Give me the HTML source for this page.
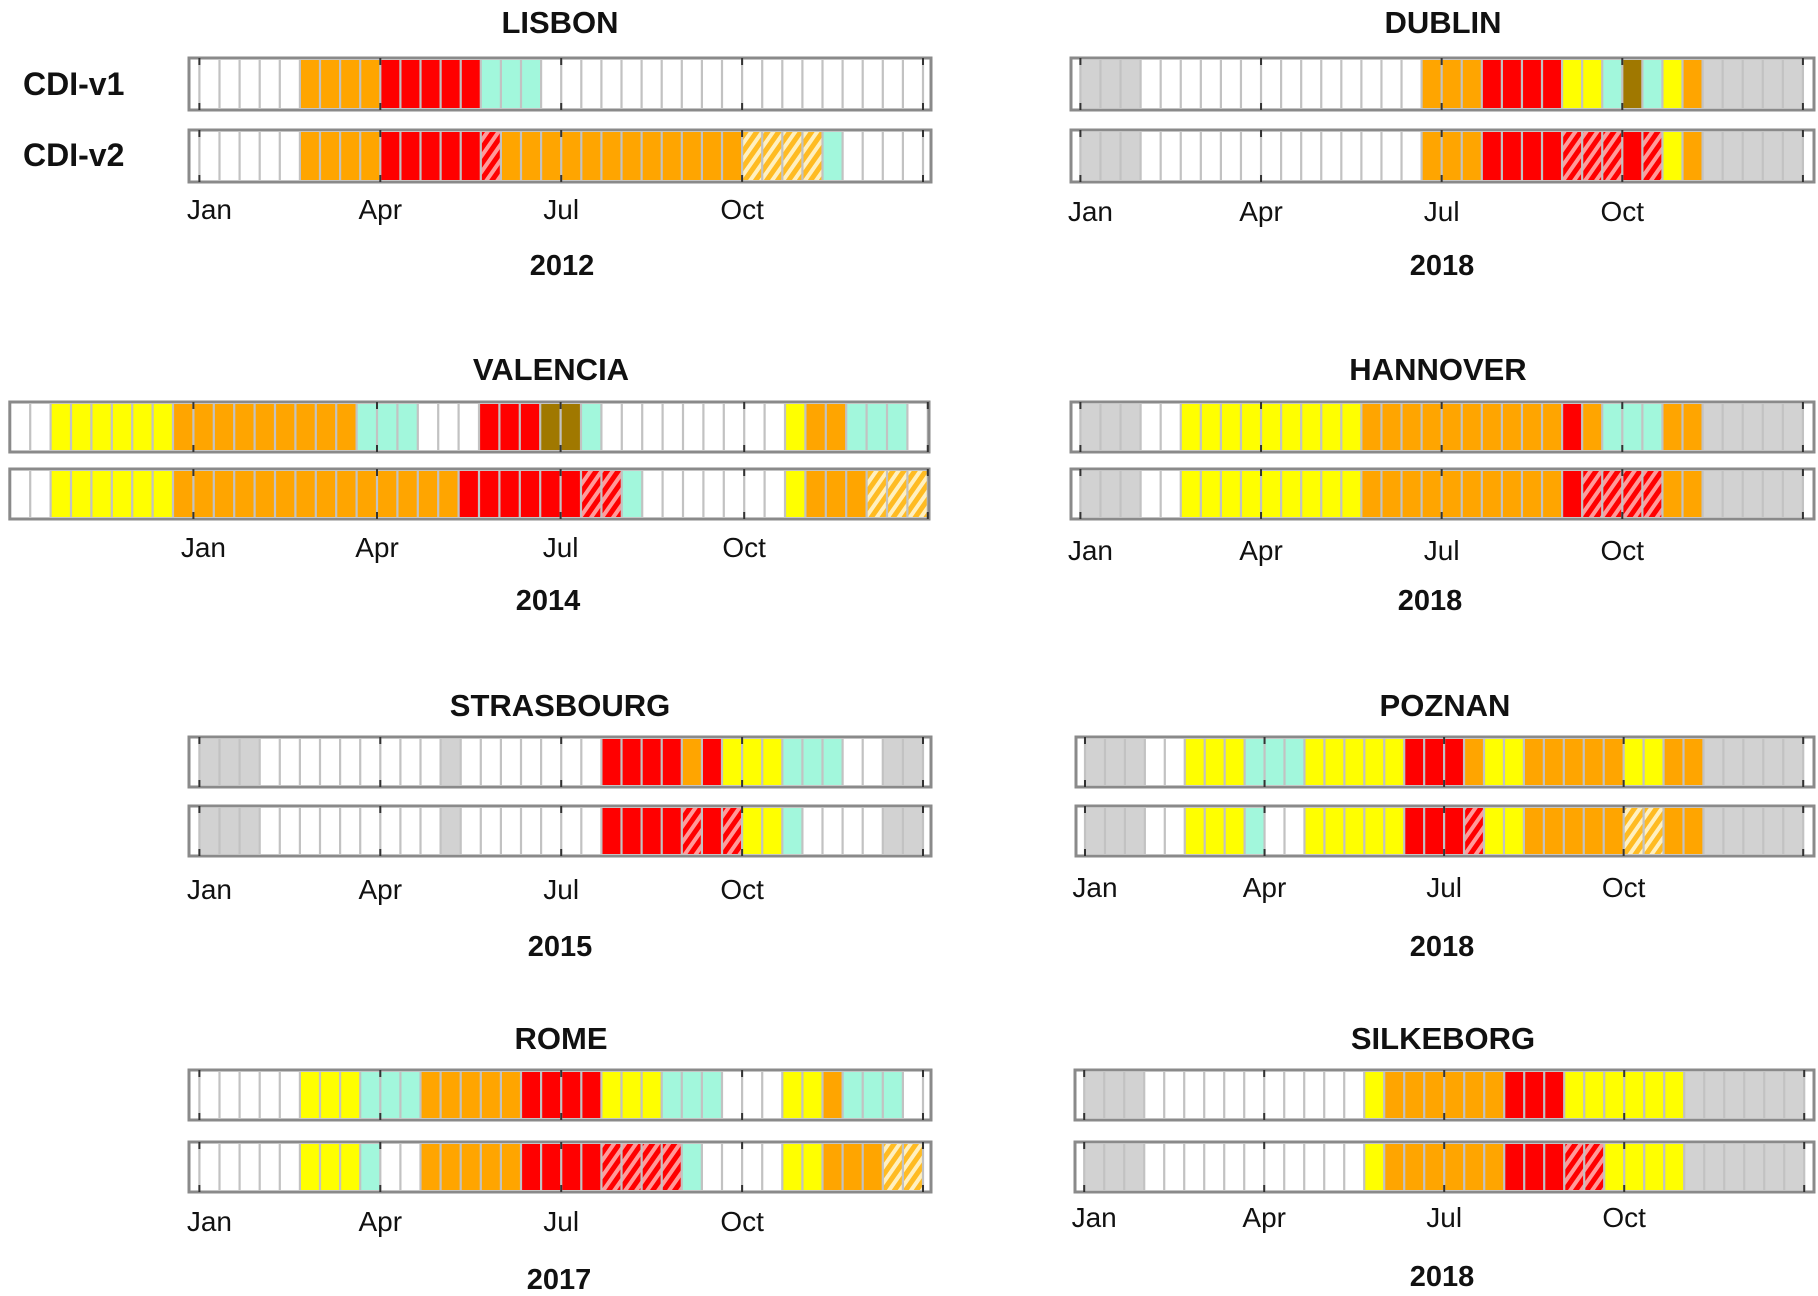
<!DOCTYPE html>
<html><head><meta charset="utf-8">
<style>
html,body{margin:0;padding:0;background:#fff;}
svg{display:block;}
text{font-family:"Liberation Sans",Arial,sans-serif;fill:#111;}
</style></head>
<body>
<svg id="chart" width="1818" height="1296" viewBox="0 0 1818 1296" xmlns="http://www.w3.org/2000/svg">
<defs>
<pattern id="hatchRed" patternUnits="userSpaceOnUse" width="9" height="9" patternTransform="rotate(35)">
<rect width="9" height="9" fill="#ff9a9a"/><rect width="5" height="9" fill="#ff0000"/></pattern>
<pattern id="hatchOrange" patternUnits="userSpaceOnUse" width="9" height="9" patternTransform="rotate(35)">
<rect width="9" height="9" fill="#fff0c0"/><rect width="5" height="9" fill="#ffbb22"/></pattern>
</defs>
<text x="23" y="95" font-size="32" font-weight="bold">CDI-v1</text>
<text x="23" y="166" font-size="32" font-weight="bold">CDI-v2</text>
</svg>
<script>
// category codes: w=none, g=no data, y=watch, o=warning, r=alert, t=recovery, b=temporary, R=alert (hatched), O=warning (hatched)
const lisbonV1 = [['w',5],['o',4],['r',5],['t',3],['w',19]];
const lisbonV2 = [['w',5],['o',4],['r',5],['R',1],['o',12],['O',4],['t',1],['w',4]];
const dublinV1 = [['g',3],['w',14],['o',3],['r',4],['y',2],['t',1],['b',1],['t',1],['y',1],['o',1],['g',5]];
const dublinV2 = [['g',3],['w',14],['o',3],['r',4],['R',3],['r',1],['R',1],['y',1],['o',1],['g',5]];
const valenciaV1 = [['w',2],['y',6],['o',9],['t',3],['w',3],['r',3],['b',2],['t',1],['w',9],['y',1],['o',2],['t',3],['w',1]];
const valenciaV2 = [['w',2],['y',6],['o',14],['r',6],['R',2],['t',1],['w',7],['y',1],['o',3],['O',3]];
const hannoverV1 = [['g',3],['w',2],['y',9],['o',10],['r',1],['o',1],['t',3],['o',2],['g',5]];
const hannoverV2 = [['g',3],['w',2],['y',9],['o',10],['r',1],['R',4],['o',2],['g',5]];
const strasbourgV1 = [['g',3],['w',9],['g',1],['w',7],['r',4],['o',1],['r',1],['y',3],['t',3],['w',2],['g',2]];
const strasbourgV2 = [['g',3],['w',9],['g',1],['w',7],['r',4],['R',1],['r',1],['R',1],['y',2],['t',1],['w',4],['g',2]];
const poznanV1 = [['g',3],['w',2],['y',3],['t',3],['y',5],['r',3],['o',1],['y',2],['o',5],['y',2],['o',2],['g',5]];
const poznanV2 = [['g',3],['w',2],['y',3],['t',1],['w',2],['y',5],['r',3],['R',1],['y',2],['o',5],['O',2],['o',2],['g',5]];
const romeV1 = [['w',5],['y',3],['t',3],['o',5],['r',4],['y',3],['t',3],['w',3],['y',2],['o',1],['t',3],['w',1]];
const romeV2 = [['w',5],['y',3],['t',1],['w',2],['o',5],['r',4],['R',4],['t',1],['w',4],['y',2],['o',3],['O',2]];
const silkeborgV1 = [['g',3],['w',11],['y',1],['o',6],['r',3],['y',6],['g',6]];
const silkeborgV2 = [['g',3],['w',11],['y',1],['o',6],['r',3],['R',2],['y',4],['g',6]];
const monthLabels = ['Jan','Apr','Jul','Oct'];
const fills = {w:'#ffffff',g:'#d2d2d2',y:'#ffff00',o:'#ffa500',r:'#ff0000',t:'#a2f7dc',b:'#a07800',R:'url(#hatchRed)',O:'url(#hatchOrange)'};

const panels = [
 {id:'lisbon',title:'LISBON',year:'2012',v1:lisbonV1,v2:lisbonV2,fl:189,fr:931,start:199.4,c:20.1,jan:0,tx:560,yx:562,row:0,my:209,yy:265},
 {id:'dublin',title:'DUBLIN',year:'2018',v1:dublinV1,v2:dublinV2,fl:1071,fr:1814,start:1080.4,c:20.07,jan:0,tx:1443,yx:1442,row:0,my:211,yy:265},
 {id:'valencia',title:'VALENCIA',year:'2014',v1:valenciaV1,v2:valenciaV2,fl:9.8,fr:929,start:9.8,c:20.4,jan:9,tx:551,yx:548,row:1,my:547,yy:600},
 {id:'hannover',title:'HANNOVER',year:'2018',v1:hannoverV1,v2:hannoverV2,fl:1071,fr:1814,start:1080.4,c:20.07,jan:0,tx:1438,yx:1430,row:1,my:550,yy:600},
 {id:'strasbourg',title:'STRASBOURG',year:'2015',v1:strasbourgV1,v2:strasbourgV2,fl:189,fr:931,start:199.4,c:20.1,jan:0,tx:560,yx:560,row:2,my:889,yy:946},
 {id:'poznan',title:'POZNAN',year:'2018',v1:poznanV1,v2:poznanV2,fl:1076,fr:1814,start:1085,c:19.95,jan:0,tx:1445,yx:1442,row:2,my:887,yy:946},
 {id:'rome',title:'ROME',year:'2017',v1:romeV1,v2:romeV2,fl:189,fr:931,start:199.4,c:20.1,jan:0,tx:561,yx:559,row:3,my:1221,yy:1279},
 {id:'silkeborg',title:'SILKEBORG',year:'2018',v1:silkeborgV1,v2:silkeborgV2,fl:1075,fr:1814,start:1084.2,c:20.0,jan:0,tx:1443,yx:1442,row:3,my:1217,yy:1276}
];
const rowGeom = [
 {t:33,b1:58,b2:130,h:52},
 {t:380,b1:402,b2:469,h:50},
 {t:716,b1:737,b2:806,h:50},
 {t:1049,b1:1070,b2:1142,h:50}
];
const NS='http://www.w3.org/2000/svg';
const svg=document.getElementById('chart');
function mk(tag,attrs,parent){const e=document.createElementNS(NS,tag);for(const k in attrs)e.setAttribute(k,attrs[k]);(parent||svg).appendChild(e);return e;}

panels.forEach(p=>{
 const g=mk('g',{});
 
 
 const rg=rowGeom[p.row];
 const xOf=i=>p.start+i*p.c;
 const tt=mk('text',{x:p.tx,y:rg.t,'font-size':31,'font-weight':'bold','text-anchor':'middle'},g);
 tt.textContent=p.title;
 
 
 [[p.v1,rg.b1,'v1'],[p.v2,rg.b2,'v2']].forEach(([runs,y,ver])=>{
  const bg=mk('g',{},g);
  
  
  mk('rect',{x:p.fl,y:y,width:p.fr-p.fl,height:rg.h,fill:'#fff'},bg);
  let i=0;
  runs.forEach(([k,n])=>{
   for(let j=0;j<n;j++){
    const r=mk('rect',{x:xOf(i),y:y+2,width:p.c,height:rg.h-4,fill:fills[k]},bg);
    
    
    i++;
   }
  });
  for(let j=0;j<=i;j++){
   mk('line',{x1:xOf(j),x2:xOf(j),y1:y+2,y2:y+rg.h-2,stroke:'#c2c2c2','stroke-width':2.2},bg);
  }
  mk('rect',{x:p.fl,y:y,width:p.fr-p.fl,height:rg.h,fill:'none',stroke:'#8a8a8a','stroke-width':3},bg);
  for(let m=0;m<=4;m++){
   const tx=xOf(p.jan+m*9);
   mk('line',{x1:tx,x2:tx,y1:y,y2:y+7,stroke:'#333','stroke-width':2},bg);
   mk('line',{x1:tx,x2:tx,y1:y+rg.h-7,y2:y+rg.h,stroke:'#333','stroke-width':2},bg);
  }
 });
 monthLabels.forEach((lab,m)=>{
  const tx=xOf(p.jan+m*9)+(m===0?10:0);
  const t=mk('text',{x:tx,y:p.my+10,'font-size':28,'text-anchor':'middle'},g);
  t.textContent=lab;
  
  
 });
 const yt=mk('text',{x:p.yx,y:p.yy+10,'font-size':29,'font-weight':'bold','text-anchor':'middle'},g);
 yt.textContent=p.year;
 
 
});
</script>
</body></html>
